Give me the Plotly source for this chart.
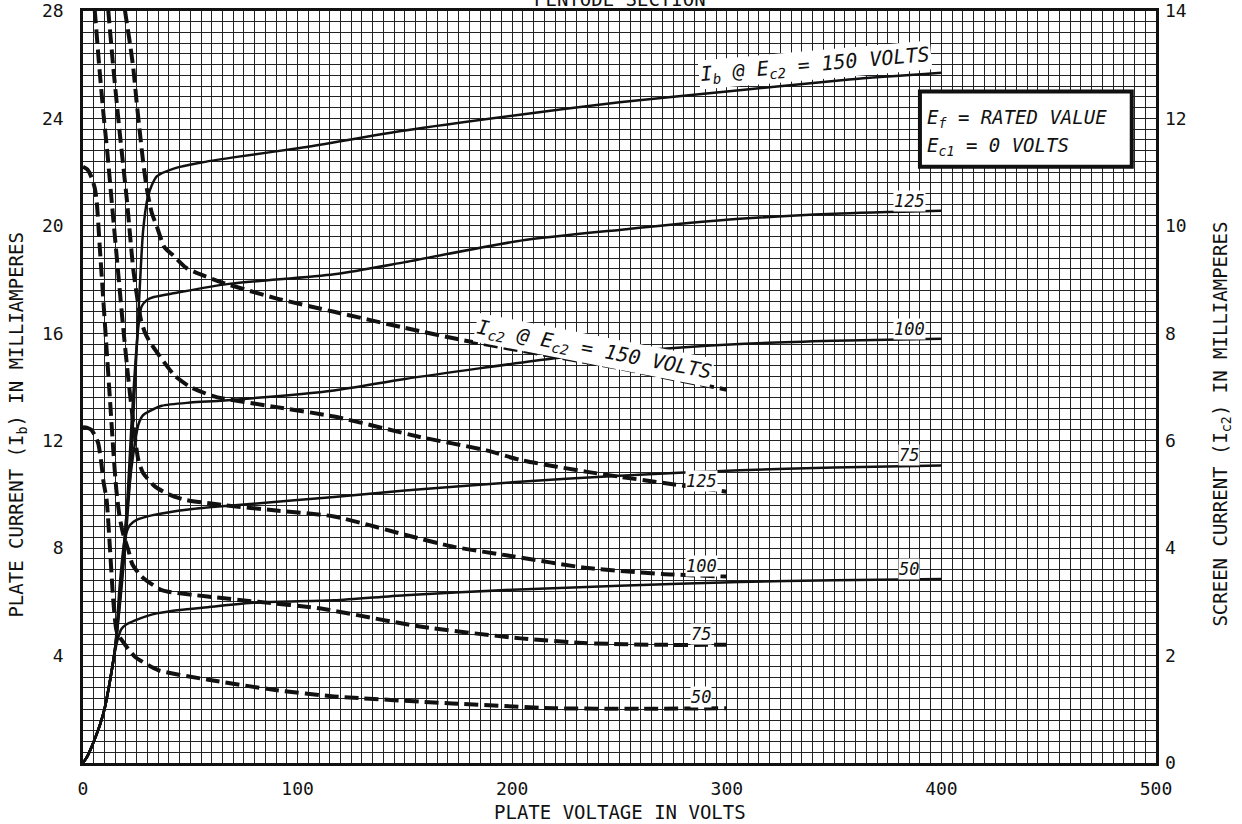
import plotly.graph_objects as go

# ---------------- data ----------------
# Plate current Ib (left axis, mA) for Ec2 = 50, 75, 100, 125, 150 V
x_ib50 = [0, 2, 4, 6, 8, 10, 12, 13.5, 15, 16.5, 18, 20, 24, 30, 35, 45, 58, 82, 117, 150, 200, 250, 306, 350, 400]
ib50 = [0, 0.25, 0.6, 1.0, 1.45, 2.0, 2.8, 3.5, 4.2, 4.7, 5.0, 5.15, 5.3, 5.48, 5.58, 5.7, 5.8, 5.98, 6.06, 6.25, 6.45, 6.6, 6.74, 6.8, 6.85]

x_ib75 = [0, 2, 4, 6, 8, 10, 12, 13.5, 15, 17.2, 19.6, 21.9, 25, 32, 50, 70.8, 117, 150, 200, 250, 306, 350, 400]
ib75 = [0, 0.25, 0.6, 1.0, 1.45, 2.0, 2.8, 3.5, 4.3, 6.7, 8.4, 8.86, 9.05, 9.22, 9.45, 9.6, 9.9, 10.15, 10.45, 10.7, 10.9, 11.0, 11.08]

x_ib100 = [0, 2, 4, 6, 8, 10, 12, 13.5, 15, 17.5, 20, 22, 24, 25.8, 28, 31, 36.7, 50, 66, 117, 150, 219, 250, 306, 350, 400]
ib100 = [0, 0.25, 0.6, 1.0, 1.45, 2.0, 2.8, 3.5, 4.3, 6.5, 9.0, 10.6, 11.8, 12.6, 12.95, 13.1, 13.3, 13.42, 13.5, 13.87, 14.3, 15.06, 15.3, 15.6, 15.72, 15.8]

x_ib125 = [0, 2, 4, 6, 8, 10, 12, 13.5, 15, 18, 20.5, 22.5, 24.5, 26, 27.3, 30, 33, 43, 68, 117, 150, 204, 250, 306, 350, 400]
ib125 = [0, 0.25, 0.6, 1.0, 1.45, 2.0, 2.8, 3.5, 4.3, 6.8, 9.5, 12.5, 15.0, 16.4, 17.0, 17.25, 17.35, 17.5, 17.84, 18.2, 18.65, 19.45, 19.85, 20.26, 20.45, 20.56]

x_ib150 = [0, 2, 4, 6, 8, 10, 12, 13.5, 15, 18.5, 21.9, 24, 26, 28, 30, 32, 34.5, 43, 54.5, 70, 101, 150, 200, 250, 300, 357, 400]
ib150 = [0, 0.25, 0.6, 1.0, 1.45, 2.0, 2.8, 3.5, 4.3, 7.0, 10.5, 13.8, 17.0, 19.8, 21.0, 21.5, 21.85, 22.15, 22.35, 22.55, 22.9, 23.55, 24.1, 24.6, 25.0, 25.45, 25.7]

# Screen current Ic2 (right axis, mA)
x_ic150 = [18.5, 19.6, 21.5, 23.4, 25, 26.6, 28, 29.7, 32, 34.3, 38, 42, 48, 54.5, 66, 90, 117, 150, 176, 219, 250, 275, 300]
ic150 = [14.4, 14.0, 13.5, 12.95, 12.3, 11.7, 11.2, 10.7, 10.25, 10.0, 9.6, 9.45, 9.22, 9.1, 8.93, 8.65, 8.4, 8.1, 7.88, 7.57, 7.35, 7.15, 6.95]

x_ic125 = [10.9, 11.8, 14, 17.2, 20.4, 23.4, 25.5, 27, 29, 31, 33.5, 38, 43, 50, 61.5, 89.5, 117, 157, 188, 204, 235, 250, 300]
ic125 = [14.4, 14.0, 13.0, 11.7, 10.5, 9.2, 8.6, 8.25, 8.0, 7.85, 7.7, 7.45, 7.2, 7.0, 6.82, 6.63, 6.45, 6.07, 5.82, 5.64, 5.42, 5.33, 5.05]

x_ic100 = [4.6, 5.5, 7.5, 9.5, 11.5, 13.5, 16, 18.5, 21, 23.5, 25.8, 28, 33.5, 40, 47.5, 66, 90, 117, 150, 172, 200, 235, 270, 300]
ic100 = [14.4, 14.0, 13.0, 12.1, 11.3, 10.4, 9.3, 8.2, 7.2, 6.3, 5.64, 5.4, 5.15, 5.0, 4.9, 4.8, 4.7, 4.59, 4.25, 4.03, 3.85, 3.63, 3.52, 3.47]

x_ic75 = [0, 2, 4, 5.5, 6.4, 7.9, 9.5, 11, 12.6, 14.1, 15.5, 17, 18.5, 20, 21.1, 23, 27.3, 36.7, 58, 81.7, 110, 157, 204, 235, 270, 300]
ic75 = [11.1, 11.05, 10.9, 10.7, 10.45, 9.55, 8.6, 7.7, 6.75, 5.83, 5.1, 4.6, 4.3, 4.1, 3.97, 3.7, 3.47, 3.22, 3.1, 3.0, 2.88, 2.54, 2.32, 2.23, 2.2, 2.2]

x_ic50 = [0, 2, 4, 5.5, 7.1, 8.5, 9.5, 11, 12.6, 14.1, 15.7, 18, 24.2, 35, 58.4, 89.5, 117, 172, 219, 260, 300]
ic50 = [6.25, 6.24, 6.2, 6.1, 5.95, 5.6, 5.25, 4.9, 3.97, 3.03, 2.45, 2.29, 1.98, 1.73, 1.55, 1.36, 1.24, 1.11, 1.02, 1.01, 1.02]

x_ticks = [0, 100, 200, 300, 400, 500]
left_ticks = [4, 8, 12, 16, 20, 24, 28]
right_ticks = [0, 2, 4, 6, 8, 10, 12, 14]

ib_labels = ["50", "75", "100", "125"]
ic_labels = ["50", "75", "100", "125"]

# ---------------- figure ----------------
FONT = "DejaVu Sans Mono"
INK = "#111111"
GRID = "#222222"

fig = go.Figure()

solid = dict(color=INK, width=2.5, shape="spline", smoothing=0.7)
for xs, ys in [(x_ib50, ib50), (x_ib75, ib75), (x_ib100, ib100), (x_ib125, ib125), (x_ib150, ib150)]:
    fig.add_trace(go.Scatter(x=xs, y=ys, mode="lines", line=solid, yaxis="y", showlegend=False, hoverinfo="skip"))

dashed = dict(color=INK, width=4, dash="14px,6px", shape="spline", smoothing=0.6)
for xs, ys in [(x_ic50, ic50), (x_ic75, ic75), (x_ic100, ic100), (x_ic125, ic125), (x_ic150, ic150)]:
    fig.add_trace(go.Scatter(x=xs, y=ys, mode="lines", line=dashed, yaxis="y2", showlegend=False, hoverinfo="skip"))

tickfont = dict(family=FONT, size=18, color=INK)
fig.update_layout(
    width=1242, height=824,
    margin=dict(l=83, r=86, t=11, b=61, autoexpand=False),
    paper_bgcolor="white", plot_bgcolor="white",
    xaxis=dict(range=[0, 500], tickvals=x_ticks, ticktext=[str(v) for v in x_ticks],
               showgrid=True, gridcolor=GRID, gridwidth=1.4,
               minor=dict(dtick=5, tick0=0, showgrid=True, gridcolor=GRID, gridwidth=1.4),
               showline=True, linecolor=INK, linewidth=2.5, mirror=True,
               ticks="", tickfont=tickfont, ticklabelstandoff=8, zeroline=False),
    yaxis=dict(range=[0, 28], tickvals=left_ticks, ticktext=[str(v) for v in left_ticks],
               showgrid=True, gridcolor=GRID, gridwidth=1.4,
               minor=dict(dtick=0.4, tick0=0, showgrid=True, gridcolor=GRID, gridwidth=1.4),
               showline=True, linecolor=INK, linewidth=2.5, mirror=True,
               ticks="", tickfont=tickfont, ticklabelstandoff=13, zeroline=False),
    yaxis2=dict(range=[0, 14], tickvals=right_ticks, ticktext=[str(v) for v in right_ticks],
                overlaying="y", side="right", showgrid=False, zeroline=False,
                ticks="", tickfont=tickfont, ticklabelstandoff=8),
)

title_font = dict(family=FONT, size=19, color=INK)
anns = [
    dict(text="PLATE VOLTAGE IN VOLTS", xref="paper", yref="paper", x=0.5, y=0, yshift=-49,
         xanchor="center", yanchor="middle", showarrow=False, font=title_font, borderpad=0),
    dict(text="PLATE CURRENT (I<sub>b</sub>) IN MILLIAMPERES", xref="paper", yref="paper", x=0, y=0.45,
         xshift=-65, textangle=-90, xanchor="center", yanchor="middle", showarrow=False, font=title_font),
    dict(text="SCREEN CURRENT (I<sub>c2</sub>) IN MILLIAMPERES", xref="paper", yref="paper", x=1, y=0.45,
         xshift=66, textangle=-90, xanchor="center", yanchor="middle", showarrow=False, font=title_font),
    dict(text="PENTODE SECTION", xref="paper", yref="paper", x=0.5, y=1, yshift=12,
         xanchor="center", yanchor="middle", showarrow=False, font=dict(family=FONT, size=19, color=INK)),
]

lab_font = dict(family=FONT, size=17, color=INK)
big_font = dict(family=FONT, size=20, color=INK)
# Ib end labels
for lab, yv in zip(ib_labels, [ib50[-1], ib75[-1], ib100[-1], ib125[-1]]):
    anns.append(dict(text="<i>" + lab + "</i>", x=385, y=yv, xref="x", yref="y", yshift=10,
                     showarrow=False, bgcolor="white", borderpad=0, font=lab_font))
# Ic2 end labels
for lab, yv in zip(ic_labels, [ic50[-1], ic75[-1], ic100[-1], ic125[-1]]):
    anns.append(dict(text="<i>" + lab + "</i>", x=288, y=yv, xref="x", yref="y2", yshift=11,
                     showarrow=False, bgcolor="white", borderpad=0, font=lab_font))

anns.append(dict(text="<i>I<sub>b</sub> @ E<sub>c2</sub> = 150 VOLTS</i>", x=341, y=25.35, xref="x", yref="y",
                 yshift=17, textangle=-5, showarrow=False, bgcolor="white", borderpad=1, font=big_font))
anns.append(dict(text="<i>I<sub>c2</sub> @ E<sub>c2</sub> = 150 VOLTS</i>", x=238, y=7.45, xref="x", yref="y2",
                 yshift=13, textangle=11, showarrow=False, bgcolor="white", borderpad=1, font=big_font))

# info box
fig.add_shape(type="rect", xref="x", yref="y", x0=390, x1=488.7, y0=22.2, y1=25.0,
              line=dict(color=INK, width=4), fillcolor="white", layer="above")
box_font = dict(family=FONT, size=19, color=INK)
anns.append(dict(text="<i>E<sub>f</sub> = RATED VALUE</i>", x=392.3, y=24.0, xref="x", yref="y",
                 xanchor="left", yanchor="middle", showarrow=False, font=box_font))
anns.append(dict(text="<i>E<sub>c1</sub> = 0 VOLTS</i>", x=392.3, y=22.95, xref="x", yref="y",
                 xanchor="left", yanchor="middle", showarrow=False, font=box_font))

fig.update_layout(annotations=anns)

fig.write_html("out.html", config={"displayModeBar": False},
               post_script="document.body.style.margin='0';")
